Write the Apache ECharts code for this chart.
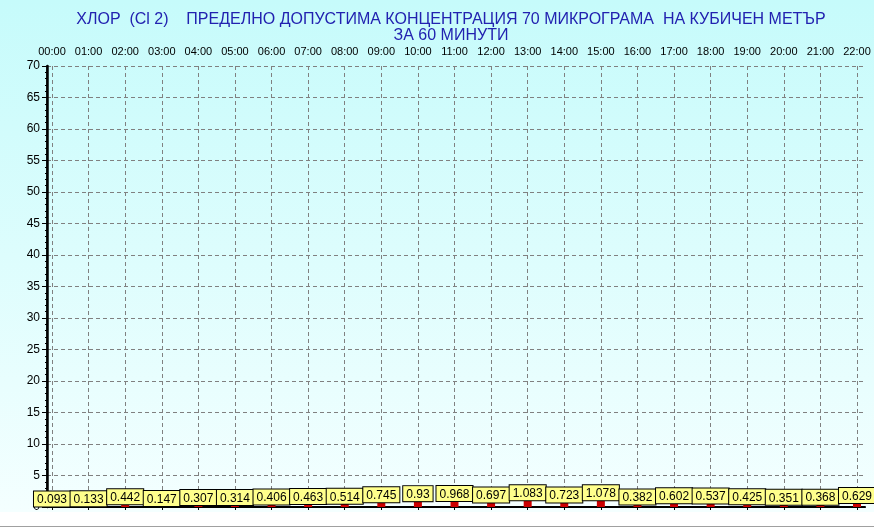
<!DOCTYPE html>
<html>
<head>
<meta charset="utf-8">
<script src="https://cdn.jsdelivr.net/npm/echarts@6/dist/echarts.min.js"></script>
<style>
html,body{margin:0;padding:0;background:#fff;}
#c{width:874px;height:529px;}
</style>
</head>
<body>
<div id="c"></div>
<script>
var hours = ['00:00','01:00','02:00','03:00','04:00','05:00','06:00','07:00','08:00','09:00','10:00','11:00','12:00','13:00','14:00','15:00','16:00','17:00','18:00','19:00','20:00','21:00','22:00'];
var values = [0.093,0.133,0.442,0.147,0.307,0.314,0.406,0.463,0.514,0.745,0.93,0.968,0.697,1.083,0.723,1.078,0.382,0.602,0.537,0.425,0.351,0.368,0.629];
var yMin = 0, yMax = 70, yStep = 5;
var titleLine1 = 'ХЛОР  (Cl 2)    ПРЕДЕЛНО ДОПУСТИМА КОНЦЕНТРАЦИЯ 70 МИКРОГРАМА  НА КУБИЧЕН МЕТЪР';
var titleLine2 = 'ЗА 60 МИНУТИ';

var chart = echarts.init(document.getElementById('c'), null, {renderer:'canvas'});
var font = 'Liberation Sans, Arial, sans-serif';
var option = {
  animation: false,
  backgroundColor: '#ffffff',
  graphic: [
    {type:'rect', z:-10, silent:true, shape:{x:0,y:0,width:874,height:512},
     style:{fill:new echarts.graphic.LinearGradient(0,0,0,1,[{offset:0,color:'#c6fbfb'},{offset:1,color:'#f4ffff'}])}},
    {type:'line', z:-9, silent:true, shape:{x1:0,y1:526.5,x2:874,y2:526.5}, style:{stroke:'#a0a0a0',lineWidth:1}}
  ],
  title: {
    text: titleLine1 + '\n' + titleLine2,
    left: 446, top: 7, textAlign: 'center',
    textStyle: {fontFamily: font, fontSize: 16, fontWeight: 'normal', color: '#2222b0', lineHeight: 16}
  },
  grid: [
    {left:47, right:9, top:66, bottom:22},
    {left:52, right:17, top:66, bottom:22}
  ],
  xAxis: [
    {type:'value', gridIndex:0, min:0, max:1, position:'bottom',
     axisLine:{show:true, lineStyle:{color:'#000', width:1, type:[4,2]}},
     axisTick:{show:false}, axisLabel:{show:false}, splitLine:{show:false}},
    {type:'value', gridIndex:0, min:0, max:1, position:'top',
     axisLine:{show:true, lineStyle:{color:'#000', width:2}},
     axisTick:{show:false}, axisLabel:{show:false}, splitLine:{show:false}},
    {type:'category', gridIndex:1, data:hours, position:'top', boundaryGap:false,
     axisLine:{show:false},
     axisTick:{show:true, inside:true, length:3, lineStyle:{color:'#000'}},
     axisLabel:{fontFamily:font, fontSize:11, color:'#000', margin:9, interval:0},
     splitLine:{show:true, lineStyle:{color:'#808080', type:[4,3], width:1}}}
  ],
  yAxis: [
    {type:'value', gridIndex:0, min:yMin, max:yMax, interval:yStep, position:'left',
     axisLine:{show:true, lineStyle:{color:'#000', width:2.5}},
     axisTick:{show:true, length:5, lineStyle:{color:'#000'}},
     minorTick:{show:true, splitNumber:5, length:2, lineStyle:{color:'#000'}},
     axisLabel:{fontFamily:font, fontSize:12, color:'#000', margin:7},
     splitLine:{show:true, lineStyle:{color:'#808080', type:[4,3], width:1}}},
    {type:'value', gridIndex:0, min:yMin, max:yMax, interval:yStep, position:'right',
     axisLine:{show:true, lineStyle:{color:'#000', width:1.5}},
     axisTick:{show:false}, axisLabel:{show:false}, splitLine:{show:false}},
    {type:'value', gridIndex:1, min:yMin, max:yMax, interval:yStep, show:false}
  ],
  series: [
    {type:'bar', xAxisIndex:2, yAxisIndex:2, data:values, barWidth:8, z:5,
     itemStyle:{color:'#cc0000'},
     label:{show:true, position:'top', distance:0,
       fontFamily:font, fontSize:12, color:'#000',
       backgroundColor:'#ffff8c', borderColor:'#000', borderWidth:1,
       padding:[2,3,0,3], lineHeight:13}
    }
  ]
};
chart.setOption(option);
</script>
</body>
</html>
